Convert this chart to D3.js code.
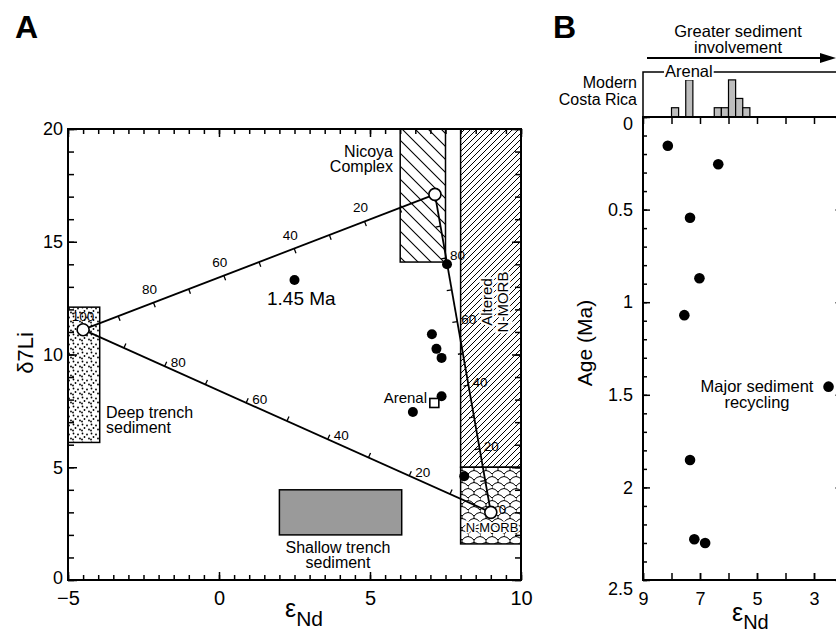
<!DOCTYPE html>
<html lang="en">
<head>
<meta charset="UTF-8">
<title>Li-Nd mixing, Costa Rica</title>
<style>
  body { margin: 0; background: white; }
  svg { display: block; font-family: "Liberation Sans", Arial, sans-serif; }
</style>
</head>
<body>
<svg width="836" height="632"></svg>
<script src="https://d3js.org/d3.v7.min.js"></script>
<script>
// panel A: samples, endmembers, fields
const sampleEps = [2.5, 7.55, 7.05, 7.2, 7.37, 7.37, 6.42, 8.12];
const sampleLi  = [13.3, 14.0, 10.9, 10.25, 9.85, 8.15, 7.45, 4.6];
const arenalEps = [7.13];
const arenalLi  = [7.85];
const endNames = ["sediment", "nicoya", "nmorb"];
const endEps = [-4.5, 7.15, 9.0];
const endLi  = [11.1, 17.1, 3.0];
const mixTicks  = [10, 20, 30, 40, 50, 60, 70, 80, 90];
const mixLabels = [20, 40, 60, 80];
const fieldNames = ["deep", "nicoya", "altered", "nmorb", "shallow"];
const fieldEps0 = [-5, 6.0, 8.0, 8.0, 2.0];
const fieldEps1 = [-3.95, 7.5, 10, 10, 6.05];
const fieldLi0  = [6.1, 14.1, 5.0, 1.6, 2.0];
const fieldLi1  = [12.1, 20, 20, 5.0, 4.0];
const xTicksA = [-5, 0, 5, 10];
const yTicksA = [0, 5, 10, 15, 20];

// panel B: age vs eNd, modern histogram
const ageEps = [8.13, 6.36, 7.35, 7.02, 7.55, 2.49, 7.35, 7.2, 6.82];
const ageMa  = [0.155, 0.255, 0.544, 0.871, 1.07, 1.456, 1.852, 2.28, 2.30];
const histBin   = [7.75, 7.25, 6.25, 6.0, 5.75, 5.5, 5.25];
const histCount = [1, 4, 1, 1, 4, 2, 1];
const binWidth = 0.25;
const xTicksB = [9, 7, 5, 3];
const yTicksB = [0, 0.5, 1, 1.5, 2, 2.5];

const svg = d3.select("svg");
const defs = svg.append("defs");

// fill patterns
const dots = defs.append("pattern").attr("id", "dots").attr("patternUnits", "userSpaceOnUse")
    .attr("width", 9).attr("height", 9);
dots.append("rect").attr("width", 9).attr("height", 9).attr("fill", "white");
[[1.5, 1.5], [6, 2.5], [3.5, 5], [8, 6.5], [1, 7.5]].forEach(p =>
    dots.append("circle").attr("cx", p[0]).attr("cy", p[1]).attr("r", 0.9).attr("fill", "black"));

const wide = defs.append("pattern").attr("id", "hatchWide").attr("patternUnits", "userSpaceOnUse")
    .attr("width", 13).attr("height", 13);
wide.append("rect").attr("width", 13).attr("height", 13).attr("fill", "white");
wide.append("path").attr("d", "M-2,-2L15,15M-2,11L2,15M11,-2L15,2")
    .attr("stroke", "black").attr("stroke-width", 1.1);

const fine = defs.append("pattern").attr("id", "hatchFine").attr("patternUnits", "userSpaceOnUse")
    .attr("width", 6).attr("height", 6);
fine.append("rect").attr("width", 6).attr("height", 6).attr("fill", "white");
fine.append("path").attr("d", "M-1,7L7,-1M-1,1L1,-1M5,7L7,5")
    .attr("stroke", "black").attr("stroke-width", 1);

const scales = defs.append("pattern").attr("id", "scales").attr("patternUnits", "userSpaceOnUse")
    .attr("width", 12).attr("height", 12);
scales.append("rect").attr("width", 12).attr("height", 12).attr("fill", "white");
scales.append("path")
    .attr("d", "M0,6Q6,-1 12,6M0,6V9M-6,12Q0,5 6,12M6,12Q12,5 18,12M6,12V15M6,0V3")
    .attr("fill", "none").attr("stroke", "black").attr("stroke-width", 1);

const fieldFill = ["url(#dots)", "url(#hatchWide)", "url(#hatchFine)", "url(#scales)", "#9a9a9a"];

// scales
const xA = d3.scaleLinear().domain([-5, 10]).range([68, 521]);
const yA = d3.scaleLinear().domain([0, 20]).range([580, 129]);
const xB = d3.scaleLinear().domain([9, 2]).range([643, 842.5]);
const yB = d3.scaleLinear().domain([0, 2.5]).range([117, 580]);
const hB = d3.scaleLinear().domain([0, 4.85]).range([117, 72]);

function ticksOnly(g, axis, values, size) {
  g.call(axis.tickValues(values).tickSize(-size).tickSizeOuter(0).tickFormat(""));
  g.select(".domain").remove();
  g.selectAll("line").attr("stroke-width", 1.5);
}
function labelled(g, axis, values, size, pad, fmt, fs) {
  g.call(axis.tickValues(values).tickSize(-size).tickSizeOuter(0).tickPadding(pad).tickFormat(fmt));
  g.select(".domain").remove();
  g.selectAll("line").attr("stroke-width", 1.5);
  g.attr("font-family", null).attr("font-size", fs);
  g.selectAll("text").attr("fill", "black");
}
const minus = d => d < 0 ? "\u2212" + (-d) : String(d);

// ---------- panel A ----------
const A = svg.append("g");

A.selectAll("rect.field").data(fieldNames).join("rect").attr("class", "field")
  .attr("x", (d, i) => xA(fieldEps0[i]))
  .attr("y", (d, i) => yA(fieldLi1[i]))
  .attr("width", (d, i) => xA(fieldEps1[i]) - xA(fieldEps0[i]))
  .attr("height", (d, i) => yA(fieldLi0[i]) - yA(fieldLi1[i]))
  .attr("fill", (d, i) => fieldFill[i])
  .attr("stroke", "black").attr("stroke-width", 1.5);

const xMinorA = d3.range(-5, 10.01, 0.5);
const yMinorA = d3.range(0, 20.01, 1);
ticksOnly(A.append("g").attr("transform", "translate(0,580)"), d3.axisBottom(xA), xMinorA, 5);
ticksOnly(A.append("g").attr("transform", "translate(0,129)"), d3.axisTop(xA), xMinorA, 5);
ticksOnly(A.append("g").attr("transform", "translate(68,0)"), d3.axisLeft(yA), yMinorA, 6);
ticksOnly(A.append("g").attr("transform", "translate(521,0)"), d3.axisRight(yA), yMinorA, 6);
ticksOnly(A.append("g").attr("transform", "translate(0,129)"), d3.axisTop(xA), xTicksA, 8);
ticksOnly(A.append("g").attr("transform", "translate(521,0)"), d3.axisRight(yA), yTicksA, 9);
labelled(A.append("g").attr("transform", "translate(0,580)"), d3.axisBottom(xA), xTicksA, 8, 11, minus, 20);
const ylA = A.append("g").attr("transform", "translate(68,0)");
labelled(ylA, d3.axisLeft(yA), yTicksA, 9, 5, minus, 18);
ylA.selectAll("text").attr("dy", d => d === 0 ? "0.2em" : "0.32em");

A.append("rect").attr("x", 68).attr("y", 129).attr("width", 521 - 68).attr("height", 580 - 129)
  .attr("fill", "none").attr("stroke", "black").attr("stroke-width", 2);

// mixing lines
const P = endNames.map((n, i) => [xA(endEps[i]), yA(endLi[i])]);
const [S, N, M] = P;
const cen = [(S[0] + N[0] + M[0]) / 3, (S[1] + N[1] + M[1]) / 3];
const mixLines = [
  { zero: N, full: S, dx: -4, dy: -9, anchor: "middle" },
  { zero: M, full: S, dx: 6, dy: 1, anchor: "start" },
  { zero: M, full: N, dx: 4, dy: 2, anchor: "start" }
];
mixLines.forEach(l => {
  A.append("line").attr("x1", l.zero[0]).attr("y1", l.zero[1]).attr("x2", l.full[0]).attr("y2", l.full[1])
    .attr("stroke", "black").attr("stroke-width", 1.8);
  const vx = l.full[0] - l.zero[0], vy = l.full[1] - l.zero[1], len = Math.hypot(vx, vy);
  let nx = -vy / len, ny = vx / len;
  const mid = [l.zero[0] + vx / 2, l.zero[1] + vy / 2];
  if ((cen[0] - mid[0]) * nx + (cen[1] - mid[1]) * ny < 0) { nx = -nx; ny = -ny; }
  const at = p => [l.zero[0] + vx * p / 100, l.zero[1] + vy * p / 100];
  A.selectAll(null).data(mixTicks).join("line")
    .attr("x1", p => at(p)[0]).attr("y1", p => at(p)[1])
    .attr("x2", p => at(p)[0] + nx * 5).attr("y2", p => at(p)[1] + ny * 5)
    .attr("stroke", "black").attr("stroke-width", 1.3);
  A.selectAll(null).data(mixLabels).join("text")
    .attr("x", p => at(p)[0] + l.dx).attr("y", p => at(p)[1] + l.dy)
    .attr("text-anchor", l.anchor).attr("font-size", 13.5).text(p => p);
});
A.append("text").attr("x", S[0]).attr("y", S[1] - 9).attr("text-anchor", "middle")
  .attr("font-size", 13.5).text("100");
A.append("text").attr("x", M[0] + 8).attr("y", M[1] + 2).attr("font-size", 13.5).text("0");

// samples
A.selectAll(null).data(sampleEps).join("circle")
  .attr("cx", (d, i) => xA(d)).attr("cy", (d, i) => yA(sampleLi[i])).attr("r", 5).attr("fill", "black");
A.selectAll(null).data(arenalEps).join("rect")
  .attr("x", (d, i) => xA(d) - 4.5).attr("y", (d, i) => yA(arenalLi[i]) - 4.5)
  .attr("width", 9).attr("height", 9).attr("fill", "white").attr("stroke", "black").attr("stroke-width", 1.6);
A.selectAll(null).data(endEps).join("circle")
  .attr("cx", d => xA(d)).attr("cy", (d, i) => yA(endLi[i])).attr("r", 6)
  .attr("fill", "white").attr("stroke", "black").attr("stroke-width", 1.6);

// text in panel A
function lines(g, x, y, rows, fs, anchor, gap) {
  const t = g.append("text").attr("x", x).attr("y", y).attr("font-size", fs).attr("text-anchor", anchor);
  rows.forEach((r, i) => t.append("tspan").attr("x", x).attr("dy", i ? gap : 0).text(r));
  return t;
}
lines(A, 393, 157, ["Nicoya", "Complex"], 16, "end", 15);
A.append("text").attr("x", 267).attr("y", 305).attr("font-size", 19).text("1.45 Ma");
A.append("text").attr("x", 427).attr("y", 403).attr("font-size", 15).attr("text-anchor", "end").text("Arenal");
lines(A, 106, 418, ["Deep trench", "sediment"], 16, "start", 15);
lines(A, 338, 553, ["Shallow trench", "sediment"], 16, "middle", 15);
const alt = A.append("g").attr("transform", "translate(480,302) rotate(-90)");
["Altered", "N-MORB"].forEach((r, i) =>
  alt.append("text").attr("y", 12 + i * 16).attr("text-anchor", "middle").attr("font-size", 15)
    .attr("stroke", "white").attr("stroke-width", 4).attr("paint-order", "stroke").text(r));
A.append("text").attr("x", 492).attr("y", 532).attr("text-anchor", "middle").attr("font-size", 13)
  .attr("stroke", "white").attr("stroke-width", 3).attr("paint-order", "stroke").text("N-MORB");

A.append("text").attr("x", 15).attr("y", 38).attr("font-size", 32).attr("font-weight", "bold").text("A");
A.append("text").attr("transform", "translate(33,353) rotate(-90)").attr("text-anchor", "middle")
  .attr("font-size", 22).text("\u03b47Li");
const xl = A.append("text").attr("x", 285).attr("y", 617);
xl.append("tspan").attr("font-size", 25).text("\u03b5");
xl.append("tspan").attr("font-size", 21).attr("dy", 9).text("Nd");

// ---------- panel B ----------
const B = svg.append("g");

// histogram
B.selectAll(null).data(histBin).join("rect")
  .attr("x", d => xB(d + binWidth)).attr("width", d => xB(d) - xB(d + binWidth))
  .attr("y", (d, i) => hB(histCount[i])).attr("height", (d, i) => hB(0) - hB(histCount[i]))
  .attr("fill", "#bdbdbd").attr("stroke", "black").attr("stroke-width", 1.2);
B.append("path").attr("d", `M643,117V${hB(4.85)}H836`).attr("fill", "none")
  .attr("stroke", "black").attr("stroke-width", 1.5);
const ar = B.append("text").attr("x", 665).attr("y", 77).attr("font-size", 16.5).text("Arenal");
const bb = ar.node().getBBox();
B.insert("rect", "text").attr("x", bb.x - 1).attr("y", bb.y).attr("width", bb.width + 2).attr("height", bb.height)
  .attr("fill", "white");
lines(B, 637, 88, ["Modern", "Costa Rica"], 16, "end", 17);

// arrow
B.append("line").attr("x1", 647).attr("y1", 58).attr("x2", 822).attr("y2", 58)
  .attr("stroke", "black").attr("stroke-width", 2);
B.append("path").attr("d", "M820,53L836,58L820,63Z").attr("fill", "black");
lines(B, 738, 37, ["Greater sediment", "involvement"], 16.5, "middle", 15.5);

// axes
const yMinorB = d3.range(0, 2.501, 0.1);
const xMinorB = d3.range(2, 9.01, 1);
ticksOnly(B.append("g").attr("transform", "translate(643,0)"), d3.axisLeft(yB), yMinorB, 4);
ticksOnly(B.append("g").attr("transform", "translate(842.5,0)"), d3.axisRight(yB), yTicksB, 7);
ticksOnly(B.append("g").attr("transform", "translate(0,580)"), d3.axisBottom(xB), xMinorB, 7);
ticksOnly(B.append("g").attr("transform", "translate(0,117)"), d3.axisTop(xB), xMinorB, 7);
const yl = B.append("g").attr("transform", "translate(643,0)");
labelled(yl, d3.axisLeft(yB), yTicksB, 7, 10, d => String(d), 18);
yl.selectAll("text").attr("dy", d => d === 0 ? "0.7em" : d === 2.5 ? "0.8em" : "0.32em");
labelled(B.append("g").attr("transform", "translate(0,580)"), d3.axisBottom(xB), xTicksB, 7, 12, d => String(d), 18);
B.append("path").attr("d", "M643,117V580H842.5V117Z").attr("fill", "none")
  .attr("stroke", "black").attr("stroke-width", 2);

B.selectAll(null).data(ageEps).join("circle")
  .attr("cx", d => xB(d)).attr("cy", (d, i) => yB(ageMa[i])).attr("r", 5.3).attr("fill", "black");

lines(B, 757, 392, ["Major sediment", "recycling"], 16.5, "middle", 15.5);
B.append("text").attr("x", 553).attr("y", 38).attr("font-size", 32).attr("font-weight", "bold").text("B");
B.append("text").attr("transform", "translate(592,343) rotate(-90)").attr("text-anchor", "middle")
  .attr("font-size", 21).text("Age (Ma)");
const xl2 = B.append("text").attr("x", 732).attr("y", 621);
xl2.append("tspan").attr("font-size", 25).text("\u03b5");
xl2.append("tspan").attr("font-size", 20).attr("dy", 8).text("Nd");
</script>
</body>
</html>
